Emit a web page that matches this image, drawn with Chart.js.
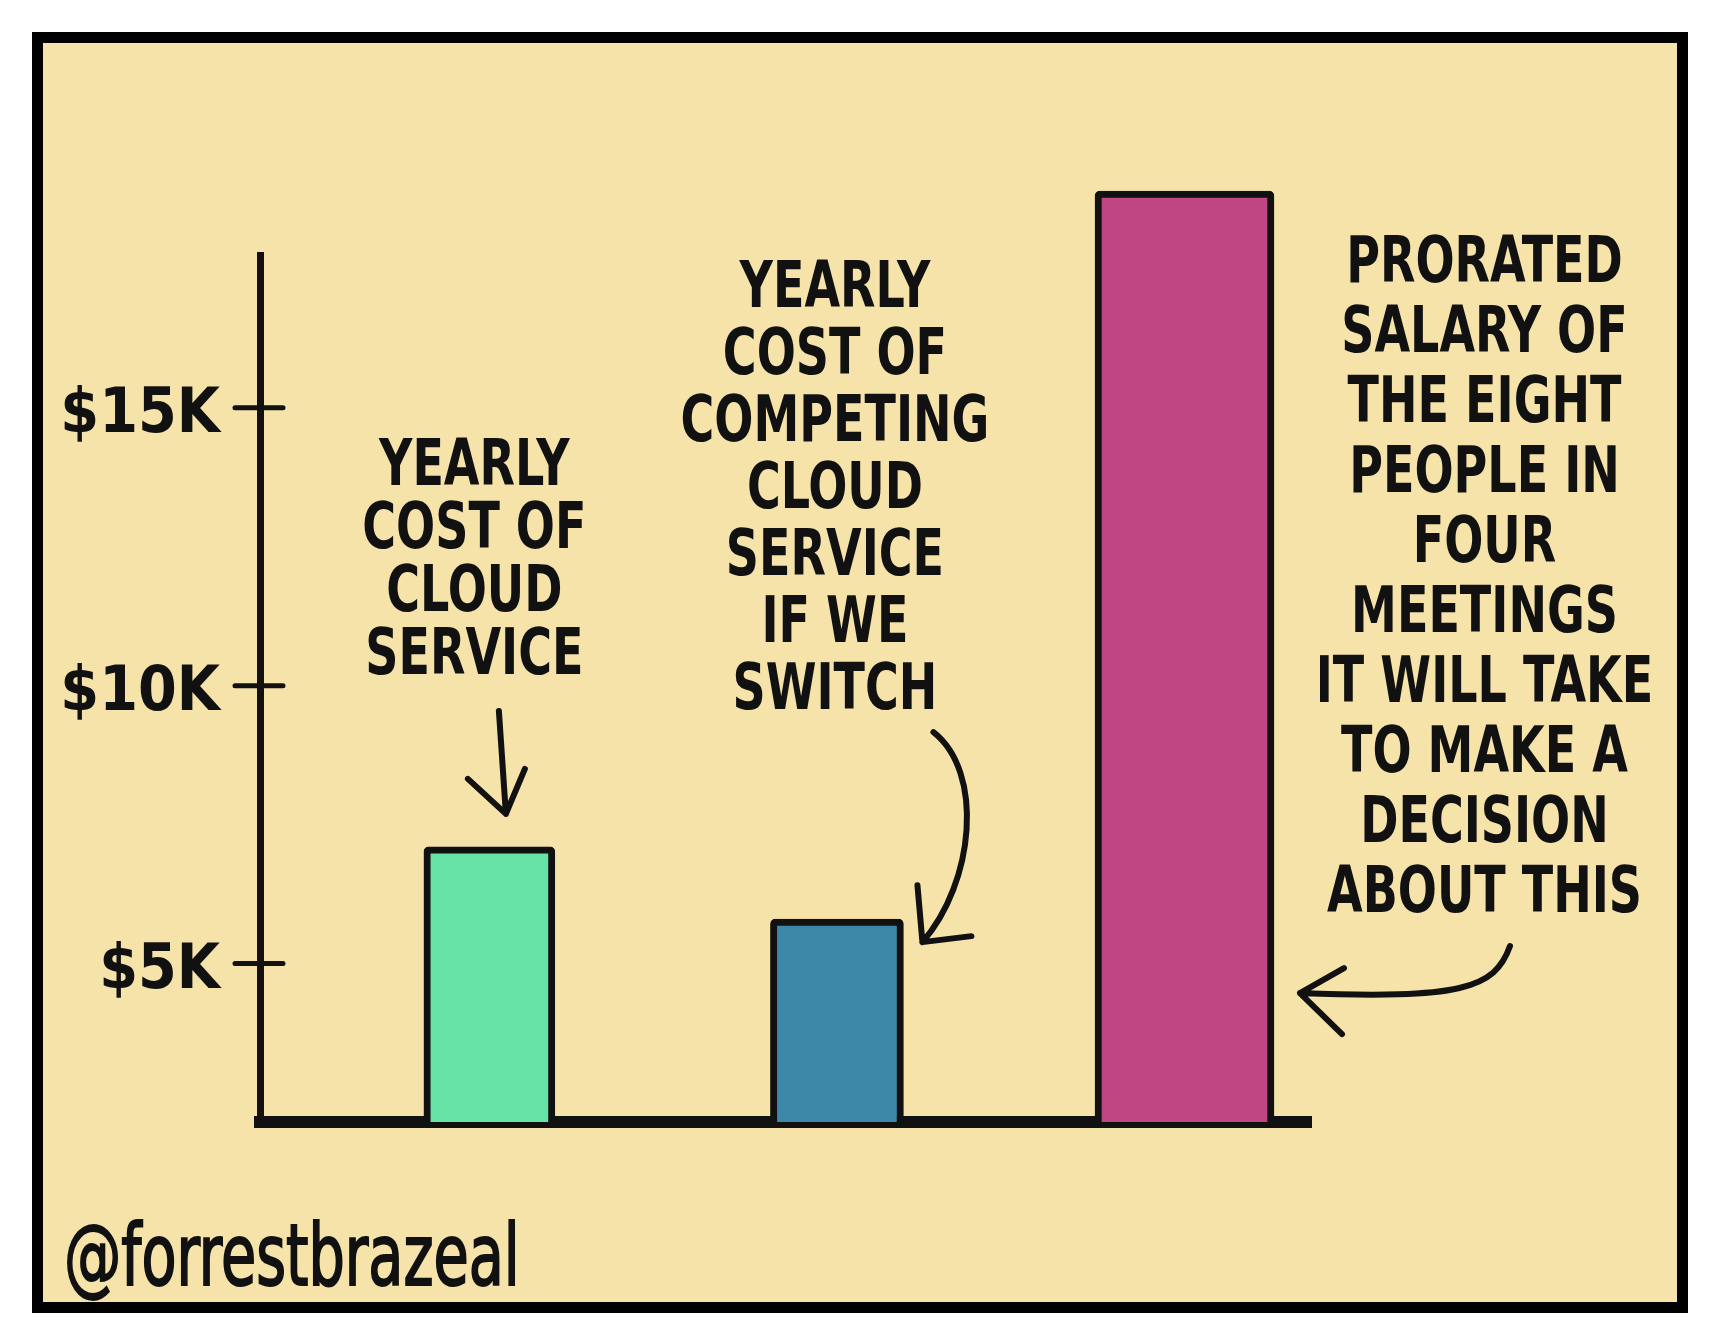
<!DOCTYPE html>
<html><head><meta charset="utf-8">
<script src="https://cdn.jsdelivr.net/npm/chart.js@4.4.1/dist/chart.umd.min.js"></script>
<style>
html,body{margin:0;padding:0;background:#fff;width:1713px;height:1340px;overflow:hidden}
#frame{position:absolute;left:32px;top:32px;width:1634px;height:1259px;border:11px solid #000;background:#f6e3aa}
#wrap{position:absolute;left:0;top:0;width:1713px;height:1340px}
#credit{position:absolute;left:64px;top:1212px;font:normal 86px "Liberation Sans Narrow","DejaVu Sans Condensed","Liberation Sans",sans-serif;color:#111;line-height:1;transform:scaleX(0.74);transform-origin:0 0;-webkit-text-stroke:2px #111;white-space:nowrap}
</style></head><body>
<div id="frame"></div>
<div id="wrap"><canvas id="c" width="1713" height="1340"></canvas></div>
<div id="credit"></div>
<script>
// ---- data ----
const categories = [
  'Yearly cost of cloud service',
  'Yearly cost of competing cloud service if we switch',
  'Prorated salary of the eight people in four meetings it will take to make a decision about this'
];
const categoryPositions = [1, 2, 3];
const values = [7100, 5800, 18900];
const tickValues = [5000, 10000, 15000];
const tickLabels = ['$5K', '$10K', '$15K'];
const annotationLines = [
  ['YEARLY', 'COST OF', 'CLOUD', 'SERVICE'],
  ['YEARLY', 'COST OF', 'COMPETING', 'CLOUD', 'SERVICE', 'IF WE', 'SWITCH'],
  ['PRORATED', 'SALARY OF', 'THE EIGHT', 'PEOPLE IN', 'FOUR', 'MEETINGS', 'IT WILL TAKE', 'TO MAKE A', 'DECISION', 'ABOUT THIS']
];
const credit = '@forrestbrazeal';

// ---- axis range (as drawn: baseline is not at zero) ----
const yMin = 2150, yMax = 17750;
const xMin = 0.34, xMax = 3.364;

// ---- styles ----
const barColors = ['#68e3a8', '#3d87a8', '#c04683'];
const barWidths = [131, 133, 179];
const annotationStyle = [
  {dx: -15, dy: -379, lh: 63},
  {dx: -2, dy: -629, lh: 67},
  {dx: 300, dy: 74, lh: 70}
];
const FONT = '"Liberation Sans Narrow","DejaVu Sans Condensed","Liberation Sans",sans-serif';
const INK = '#111';

document.getElementById('credit').textContent = credit;

const sketchPlugin = {
  id: 'sketch',
  afterDraw(chart) {
    const ctx = chart.ctx;
    const ys = chart.scales.y;
    const axisX = chart.chartArea.left;
    ctx.save();
    ctx.strokeStyle = INK; ctx.lineCap = 'round'; ctx.lineJoin = 'round';
    // crossing tick marks
    ctx.lineWidth = 5;
    ys.ticks.forEach(t => {
      const py = ys.getPixelForValue(t.value);
      ctx.beginPath(); ctx.moveTo(axisX - 25, py); ctx.lineTo(axisX + 23, py); ctx.stroke();
    });
    // annotations
    ctx.fillStyle = INK; ctx.textAlign = 'center'; ctx.textBaseline = 'middle';
    ctx.font = 'bold 64px ' + FONT;
    const els = annotationLines.map((_, i) => chart.getDatasetMeta(i).data[0]);
    annotationLines.forEach((lines, i) => {
      const el = els[i], st = annotationStyle[i];
      lines.forEach((line, j) => {
        ctx.save();
        ctx.translate(el.x + st.dx, el.y + st.dy + j * st.lh);
        ctx.scale(0.8, 1);
        ctx.fillText(line, 0, 0);
        ctx.restore();
      });
    });
    // arrows
    ctx.lineWidth = 6;
    let bx = els[0].x, top = els[0].y;
    ctx.beginPath();
    ctx.moveTo(bx + 9.5, top - 136); ctx.lineTo(bx + 16.5, top - 33);
    ctx.moveTo(bx - 21.5, top - 68); ctx.lineTo(bx + 16.5, top - 33); ctx.lineTo(bx + 35.5, top - 78);
    ctx.stroke();
    bx = els[1].x - 17; top = els[1].y;
    ctx.beginPath();
    ctx.moveTo(bx + 113.5, top - 187);
    ctx.bezierCurveTo(bx + 164.5, top - 147, bx + 154.5, top - 37, bx + 102.5, top + 23);
    ctx.moveTo(bx + 151.5, top + 17); ctx.lineTo(bx + 102.5, top + 23); ctx.lineTo(bx + 97.5, top - 34);
    ctx.stroke();
    bx = els[2].x; top = els[2].y;
    ctx.beginPath();
    ctx.moveTo(bx + 325.5, top + 755);
    ctx.bezierCurveTo(bx + 310.5, top + 798, bx + 275.5, top + 808, bx + 115.5, top + 802);
    ctx.moveTo(bx + 159.5, top + 777); ctx.lineTo(bx + 115.5, top + 802); ctx.lineTo(bx + 157.5, top + 843);
    ctx.stroke();
    ctx.restore();
  }
};

new Chart(document.getElementById('c'), {
  type: 'bar',
  data: {
    datasets: categories.map((c, i) => ({
      label: c,
      data: [{x: categoryPositions[i], y: values[i]}],
      backgroundColor: barColors[i],
      borderColor: INK,
      borderWidth: 7,
      borderRadius: 5,
      barThickness: barWidths[i],
      base: yMin,
      grouped: false,
      clip: false
    }))
  },
  options: {
    responsive: false,
    animation: false,
    layout: {padding: {left: 0, right: 402, top: 255, bottom: 198}},
    plugins: {legend: {display: false}, tooltip: {enabled: false}},
    scales: {
      x: {
        type: 'linear', min: xMin, max: xMax, offset: false,
        afterFit: s => { s.height = 20; },
        ticks: {display: false},
        grid: {display: true, drawOnChartArea: false, drawTicks: false},
        border: {color: INK, width: 12}
      },
      y: {
        type: 'linear', min: yMin, max: yMax,
        afterBuildTicks: s => { s.ticks = tickValues.map(v => ({value: v})); },
        afterFit: s => { s.width = 260; },
        grid: {display: true, drawOnChartArea: false, drawTicks: false},
        border: {color: '#151010', width: 7},
        ticks: {
          callback: v => tickLabels[tickValues.indexOf(v)],
          color: INK, padding: 40, labelOffset: 8,
          font: {family: FONT, size: 62, weight: 'bold'}
        }
      }
    }
  },
  plugins: [sketchPlugin]
});
</script>
</body></html>
